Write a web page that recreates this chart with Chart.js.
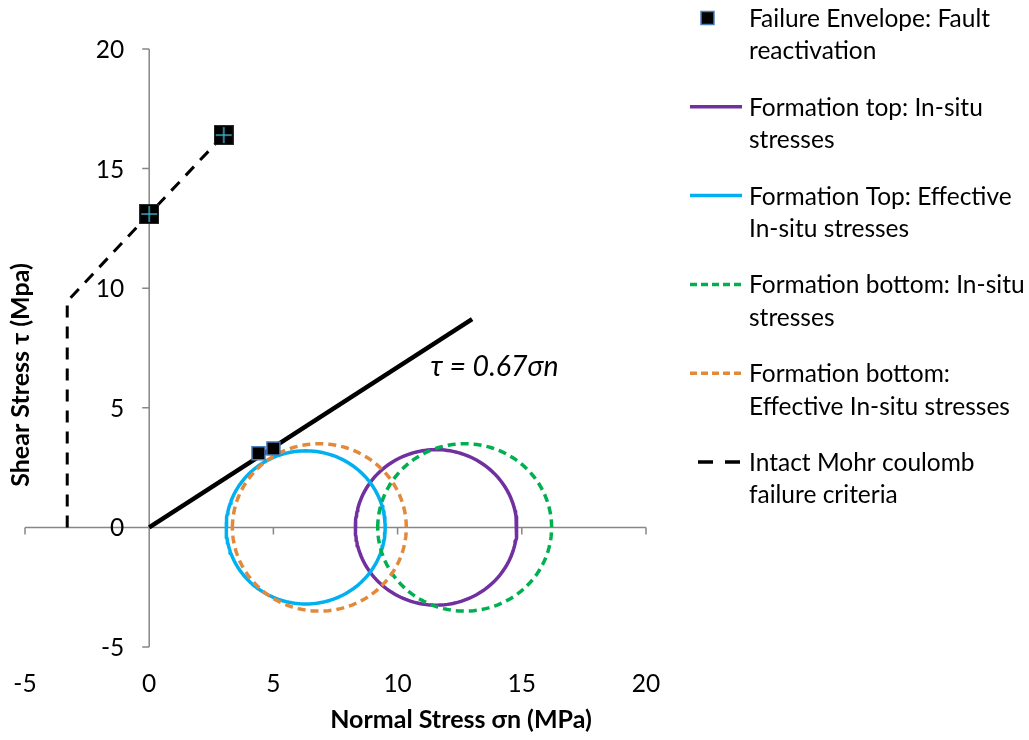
<!DOCTYPE html>
<html>
<head>
<meta charset="utf-8">
<title>Mohr circles and failure envelopes</title>
<script src="https://cdn.jsdelivr.net/npm/chart.js@4.4.1/dist/chart.umd.min.js"></script>
<style>
  html, body { margin: 0; padding: 0; background: #ffffff; }
  canvas { display: block; }
</style>
</head>
<body>
<canvas id="chart" width="1029" height="740"></canvas>
<script>
// ---- Axis ticks ----
const xTicks = [-5, 0, 5, 10, 15, 20];
const yTicks = [-5, 0, 5, 10, 15, 20];

// ---- Failure envelope: fault reactivation points (MPa) ----
const faultX = [4.4, 5.0];
const faultY = [3.1, 3.3];
const faultUpperX = [0, 3.0];
const faultUpperY = [13.1, 16.4];

// ---- Intact Mohr-Coulomb failure criteria (MPa) ----
const intactX = [-3.3, -3.3, 0, 3.0];
const intactY = [0, 9.45, 13.1, 16.4];

// ---- Frictional envelope tau = mu * sigma_n ----
const frictionCoef = 0.67;
const envelopeX = [0, 13];

// ---- Principal stresses of each Mohr circle (MPa) ----
// order: top in-situ, top effective, bottom in-situ, bottom effective
const circleSigma3 = [8.3, 3.1, 9.2, 3.35];
const circleSigma1 = [14.8, 9.5, 16.2, 10.35];

// ---- Series names ----
const seriesNames = [
  'Failure Envelope: Fault reactivation',
  'Formation top: In-situ stresses',
  'Formation Top: Effective In-situ stresses',
  'Formation bottom: In-situ stresses',
  'Formation bottom: Effective In-situ stresses',
  'Intact Mohr coulomb failure criteria'
];
const legendLines = [
  ['Failure Envelope: Fault', 'reactivation'],
  ['Formation top: In-situ', 'stresses'],
  ['Formation Top: Effective', 'In-situ stresses'],
  ['Formation bottom: In-situ', 'stresses'],
  ['Formation bottom:', 'Effective In-situ stresses'],
  ['Intact Mohr coulomb', 'failure criteria']
];

const FONT = 'Lato, "Open Sans", "Noto Sans", sans-serif';

// Mohr circle outline from sigma3 / sigma1
function mohrCircle(s3, s1) {
  const c = (s1 + s3) / 2, r = (s1 - s3) / 2, n = 180;
  const pts = [];
  for (let k = 0; k <= n + 2; k++) {
    const t = Math.PI - 2 * Math.PI * k / n;
    pts.push({ x: c + r * Math.cos(t), y: r * Math.sin(t) });
  }
  return pts;
}
const zip = (xs, ys) => xs.map((x, i) => ({ x, y: ys[i] }));

// Square marker with a cross, used for the upper envelope points
function crossSquare() {
  const s = 20, cv = document.createElement('canvas');
  cv.width = s; cv.height = s;
  const g = cv.getContext('2d');
  g.fillStyle = '#000000';
  g.fillRect(0, 0, s, s);
  g.strokeStyle = '#2b2b2b';
  g.lineWidth = 1;
  g.strokeRect(0.5, 0.5, s - 1, s - 1);
  g.strokeStyle = '#3fa8c2';
  g.lineWidth = 1.5;
  g.beginPath();
  g.moveTo(2, s / 2); g.lineTo(s - 2, s / 2);
  g.moveTo(s / 2, 2); g.lineTo(s / 2, s - 2);
  g.stroke();
  return cv;
}

const circleColors = ['#7030A0', '#00B0F0', '#00B050', '#E2893C'];
const circleDash = [[], [], [8, 5], [8, 5]];

const lineBase = { showLine: true, pointRadius: 0, pointHoverRadius: 0, fill: false, tension: 0 };

const datasets = [
  { label: seriesNames[0], data: zip(faultX, faultY), pointStyle: 'rect', pointRadius: 9.2,
    backgroundColor: '#000000', borderColor: '#4A7EBB', borderWidth: 1.5, showLine: false, order: 1 },
  { label: '', data: zip(faultUpperX, faultUpperY), pointStyle: crossSquare(), pointRadius: 10,
    showLine: false, order: 1 },
  { label: 'τ envelope', data: envelopeX.map(x => ({ x, y: frictionCoef * x })),
    borderColor: '#000000', borderWidth: 4.5, borderCapStyle: 'butt', ...lineBase, order: 2 },
  { label: seriesNames[5], data: zip(intactX, intactY), borderColor: '#000000', borderWidth: 3,
    borderDash: [12, 9], ...lineBase, order: 3 }
];
for (let i = 3; i >= 0; i--) {
  datasets.push({
    label: seriesNames[i + 1], data: mohrCircle(circleSigma3[i], circleSigma1[i]),
    borderColor: circleColors[i], borderWidth: 3.5, borderDash: circleDash[i],
    borderJoinStyle: 'round',
    ...lineBase, order: 4 + (3 - i)
  });
}

// Axes crossing at the origin, y tick labels, axis titles and equation label
const axesPlugin = {
  id: 'crossAxes',
  beforeDatasetsDraw(chart) {
    const { ctx } = chart, xs = chart.scales.x, ys = chart.scales.y;
    const x0 = xs.getPixelForValue(0), y0 = ys.getPixelForValue(0);
    ctx.save();
    ctx.strokeStyle = '#878787';
    ctx.lineWidth = 1.5;
    ctx.beginPath();
    ctx.moveTo(x0, ys.getPixelForValue(yTicks[yTicks.length - 1]));
    ctx.lineTo(x0, ys.getPixelForValue(yTicks[0]));
    yTicks.forEach(v => { const p = ys.getPixelForValue(v); ctx.moveTo(x0 - 7, p); ctx.lineTo(x0, p); });
    ctx.moveTo(xs.getPixelForValue(xTicks[0]), y0);
    ctx.lineTo(xs.getPixelForValue(xTicks[xTicks.length - 1]), y0);
    xTicks.forEach(v => { const p = xs.getPixelForValue(v); ctx.moveTo(p, y0); ctx.lineTo(p, y0 + 7); });
    ctx.stroke();

    ctx.fillStyle = '#000000';
    ctx.font = '24.5px ' + FONT;
    ctx.textAlign = 'right';
    ctx.textBaseline = 'middle';
    yTicks.forEach(v => ctx.fillText(String(v), x0 - 25, ys.getPixelForValue(v) + 1));
    ctx.restore();
  },
  afterDraw(chart) {
    const { ctx } = chart, xs = chart.scales.x, ys = chart.scales.y;
    ctx.save();
    ctx.fillStyle = '#000000';
    ctx.textAlign = 'center';
    ctx.textBaseline = 'middle';
    ctx.font = 'bold 25px ' + FONT;
    ctx.fillText('Normal Stress σn (MPa)', 461, 720);
    ctx.save();
    ctx.translate(21, 375);
    ctx.rotate(-Math.PI / 2);
    ctx.fillText('Shear Stress τ (Mpa)', 0, 0);
    ctx.restore();
    ctx.font = 'italic 28.5px ' + FONT;
    ctx.fillText('τ = ' + frictionCoef.toFixed(2) + 'σn', xs.getPixelForValue(13.9), ys.getPixelForValue(6.7));
    ctx.restore();
  }
};

// Two-line legend on the right
const legendPlugin = {
  id: 'sideLegend',
  afterDraw(chart) {
    const { ctx } = chart;
    const styles = [
      { marker: true },
      { color: circleColors[0], dash: [] },
      { color: circleColors[1], dash: [] },
      { color: circleColors[2], dash: [7, 4] },
      { color: circleColors[3], dash: [7, 4] },
      { color: '#000000', dash: [15, 12], start: 698, width: 3.5 }
    ];
    ctx.save();
    ctx.font = '24.5px ' + FONT;
    ctx.fillStyle = '#000000';
    ctx.textAlign = 'left';
    ctx.textBaseline = 'middle';
    legendLines.forEach((lines, i) => {
      const y = 18 + i * 88.8;
      const st = styles[i];
      if (st.marker) {
        ctx.fillStyle = '#000000';
        ctx.fillRect(701, y - 6.5, 13, 13);
        ctx.strokeStyle = '#4A7EBB';
        ctx.lineWidth = 1.5;
        ctx.strokeRect(701, y - 6.5, 13, 13);
      } else {
        ctx.strokeStyle = st.color;
        ctx.lineWidth = st.width || 3.5;
        ctx.setLineDash(st.dash);
        ctx.beginPath();
        ctx.moveTo(st.start || 690, y);
        ctx.lineTo(742, y);
        ctx.stroke();
        ctx.setLineDash([]);
      }
      ctx.fillStyle = '#000000';
      lines.forEach((t, j) => ctx.fillText(t, 749, y + 1 + j * 32.5));
    });
    ctx.restore();
  }
};

const chart = new Chart(document.getElementById('chart'), {
  type: 'scatter',
  data: { datasets },
  options: {
    responsive: false,
    animation: false,
    devicePixelRatio: 1,
    layout: { padding: { left: 25, top: 49, right: 383, bottom: 0 } },
    plugins: { legend: { display: false }, tooltip: { enabled: false } },
    scales: {
      x: {
        type: 'linear', min: xTicks[0], max: xTicks[xTicks.length - 1],
        grid: { display: false, drawTicks: false },
        border: { display: false },
        afterBuildTicks: s => { s.ticks = xTicks.map(v => ({ value: v })); },
        afterFit: s => { s.height = 93; s.paddingLeft = 0; s.paddingRight = 0; },
        ticks: { padding: 22, maxRotation: 0, color: '#000000', font: { family: FONT, size: 24.5 } }
      },
      y: {
        type: 'linear', min: yTicks[0], max: yTicks[yTicks.length - 1],
        display: false
      }
    }
  },
  plugins: [axesPlugin, legendPlugin]
});

if (document.fonts && document.fonts.ready) {
  document.fonts.ready.then(() => chart.update());
}
</script>
</body>
</html>
